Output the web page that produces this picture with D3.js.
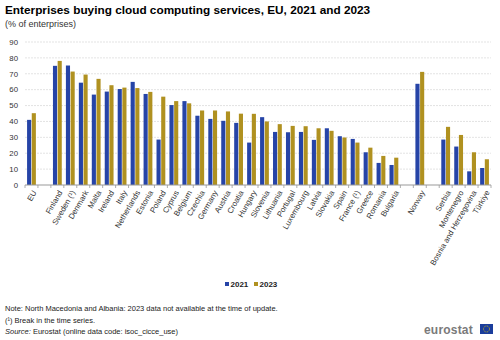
<!DOCTYPE html>
<html>
<head>
<meta charset="utf-8">
<script src="https://cdn.jsdelivr.net/npm/d3@7"></script>
<style>
  body { margin: 0; background: #fff; }
  svg { display: block; font-family: Arial, "Liberation Sans", sans-serif; }
</style>
</head>
<body>
<svg id="chart" width="500" height="340"></svg>
<script>
// Cloud computing services bar chart

// blank strings mark the gaps between country groups
const countries = ['EU', '', 'Finland', 'Sweden (¹)', 'Denmark', 'Malta', 'Ireland', 'Italy',
    'Netherlands', 'Estonia', 'Poland', 'Cyprus', 'Belgium', 'Czechia', 'Germany', 'Austria',
    'Croatia', 'Hungary', 'Slovenia', 'Lithuania', 'Portugal', 'Luxembourg', 'Latvia', 'Slovakia',
    'Spain', 'France (¹)', 'Greece', 'Romania', 'Bulgaria', ' ', 'Norway', '  ',
    'Serbia', 'Montenegro', 'Bosnia and Herzegovina', 'Türkiye'];

const values2021 = [41, null, 75, 75.2, 64.4, 56.9, 58.8, 60.4, 64.9, 57.3, 28.6, 50.3, 52.8, 43.6,
    41.6, 40.4, 39.1, 26.7, 42.7, 33.4, 33.2, 33.4, 28.4, 35.7, 30.7, 29, 20.6, 13.9, 12.6,
    null, 63.7, null, 28.6, 24.2, 8.6, 10.7];

const values2023 = [45.2, null, 78.1, 71.4, 69.5, 66.8, 62.8, 61.3, 61, 58.6, 55.6, 52.8, 51.4, 46.9,
    46.9, 46.3, 44.9, 44.8, 40, 38.3, 37.2, 37, 35.7, 34.1, 29.9, 26.7, 23.5, 18.3, 17.2,
    null, 71.2, null, 36.6, 31.5, 20.6, 16.2];

const years = ['2021', '2023'];
const colors = { '2021': '#2644A7', '2023': '#B09120' };
const yTicks = [0, 10, 20, 30, 40, 50, 60, 70, 80, 90];

const svg = d3.select('#chart');
const margin = { top: 42, right: 9, bottom: 155, left: 25 };
const width = 500, height = 340;
const innerWidth = width - margin.left - margin.right;
const innerHeight = height - margin.top - margin.bottom;

const g = svg.append('g')
    .attr('transform', `translate(${margin.left}, ${margin.top})`);

const x = d3.scaleBand()
    .domain(countries)
    .range([0, innerWidth])
    .paddingInner(0.32)
    .paddingOuter(0.16);

const xSub = d3.scaleBand()
    .domain(years)
    .range([0, x.bandwidth()])
    .paddingInner(0.12);

const y = d3.scaleLinear()
    .domain([0, 90])
    .range([innerHeight, 0]);

// Grid lines
g.append('g')
    .selectAll('line')
    .data(yTicks.slice(1))
    .enter()
    .append('line')
    .attr('x1', 0)
    .attr('x2', innerWidth)
    .attr('y1', d => y(d))
    .attr('y2', d => y(d))
    .attr('stroke', '#dcdcdc')
    .attr('stroke-width', 0.8)
    .attr('stroke-dasharray', '2,1');

// Y axis labels
g.append('g')
    .selectAll('text')
    .data(yTicks)
    .enter()
    .append('text')
    .attr('x', -7)
    .attr('y', d => y(d))
    .attr('dy', '0.35em')
    .attr('text-anchor', 'end')
    .attr('fill', '#333')
    .attr('font-size', '7.8px')
    .text(d => d);

// Bars
const rows = countries.map((c, i) => ({ country: c, '2021': values2021[i], '2023': values2023[i] }));

const groups = g.selectAll('.country')
    .data(rows.filter(d => d['2021'] !== null))
    .enter()
    .append('g')
    .attr('class', 'country')
    .attr('transform', d => `translate(${x(d.country)}, 0)`);

groups.selectAll('rect')
    .data(d => years.map(yr => ({ year: yr, value: d[yr] })))
    .enter()
    .append('rect')
    .attr('x', d => xSub(d.year))
    .attr('width', xSub.bandwidth())
    .attr('y', d => y(d.value))
    .attr('height', d => innerHeight - y(d.value))
    .attr('fill', d => colors[d.year]);

// X axis baseline and ticks
g.append('line')
    .attr('x1', 0)
    .attr('x2', innerWidth)
    .attr('y1', innerHeight)
    .attr('y2', innerHeight)
    .attr('stroke', '#999')
    .attr('stroke-width', 1);

const step = x.step();
g.append('g')
    .selectAll('line')
    .data(d3.range(countries.length + 1))
    .enter()
    .append('line')
    .attr('x1', i => Math.min(i * step, innerWidth))
    .attr('x2', i => Math.min(i * step, innerWidth))
    .attr('y1', innerHeight)
    .attr('y2', innerHeight + 3)
    .attr('stroke', '#999')
    .attr('stroke-width', 0.8);

// X labels
g.append('g')
    .selectAll('text')
    .data(countries.filter(c => c.trim() !== ''))
    .enter()
    .append('text')
    .attr('transform', d => `translate(${x(d) + x.bandwidth() / 2 + 3}, ${innerHeight + 6}) rotate(-60)`)
    .attr('text-anchor', 'end')
    .attr('dy', '0.35em')
    .attr('fill', '#333')
    .attr('font-size', '7.8px')
    .text(d => d);

// Title and subtitle
svg.append('text')
    .attr('x', 5)
    .attr('y', 14)
    .attr('fill', '#000')
    .attr('font-size', '11.8px')
    .attr('font-weight', 'bold')
    .text('Enterprises buying cloud computing services, EU, 2021 and 2023');

svg.append('text')
    .attr('x', 5)
    .attr('y', 27)
    .attr('fill', '#333')
    .attr('font-size', '9px')
    .text('(% of enterprises)');

// Legend
const legend = svg.append('g')
    .attr('transform', 'translate(225, 287)');

years.forEach((yr, i) => {
    const item = legend.append('g').attr('transform', `translate(${i * 29}, 0)`);
    item.append('rect')
        .attr('x', 0)
        .attr('y', -5)
        .attr('width', 4)
        .attr('height', 4)
        .attr('fill', colors[yr]);
    item.append('text')
        .attr('x', 5.5)
        .attr('y', 0)
        .attr('fill', '#222')
        .attr('font-size', '8px')
        .attr('font-weight', 'bold')
        .text(yr);
});

// Notes
const notes = svg.append('g')
    .attr('fill', '#222')
    .attr('font-size', '7.5px');

notes.append('text')
    .attr('x', 5)
    .attr('y', 311)
    .text('Note: North Macedonia and Albania: 2023 data not available at the time of update.');

notes.append('text')
    .attr('x', 5)
    .attr('y', 322.5)
    .text('(¹) Break in the time series.');

const src = notes.append('text')
    .attr('x', 5)
    .attr('y', 334)
    .text('');
src.append('tspan').attr('font-style', 'italic').text('Source:');
src.append('tspan').text(' Eurostat (online data code: isoc_cicce_use)');

// Eurostat logo
const logo = svg.append('g').attr('transform', 'translate(424, 334)');
logo.append('text')
    .attr('x', 0)
    .attr('y', 0)
    .attr('fill', '#7a7a7a')
    .attr('font-size', '12px')
    .attr('font-weight', 'bold')
    .attr('letter-spacing', '0.2px')
    .text('eurostat');
logo.append('rect')
    .attr('x', 56)
    .attr('y', -10)
    .attr('width', 13)
    .attr('height', 10)
    .attr('fill', '#1a3d9c');
logo.append('circle')
    .attr('cx', 62.5)
    .attr('cy', -5)
    .attr('r', 3)
    .attr('fill', 'none')
    .attr('stroke', '#f5d300')
    .attr('stroke-width', 0.8)
    .attr('stroke-dasharray', '0.8,0.8');
</script>
</body>
</html>
